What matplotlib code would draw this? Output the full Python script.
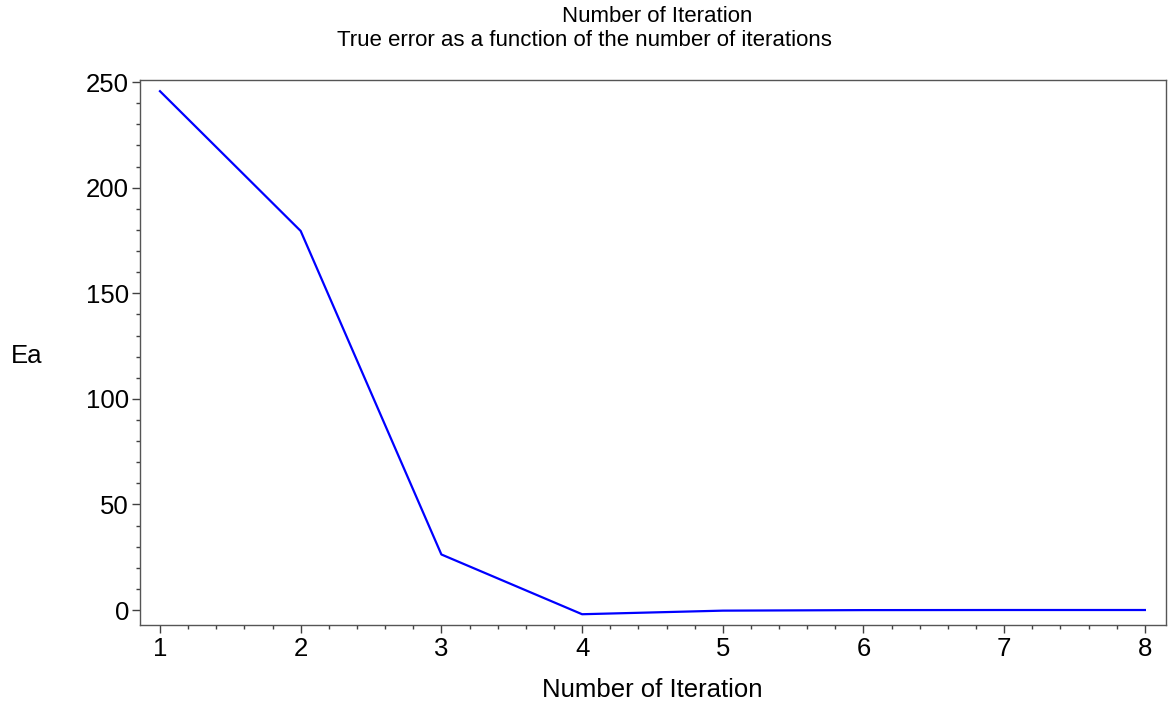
import matplotlib
matplotlib.use("Agg")
import matplotlib.pyplot as plt
from matplotlib.ticker import MultipleLocator

iterations = [1, 2, 3, 4, 5, 6, 7, 8]
true_error = [245.7, 179.5, 26.3, -2.0, -0.3, -0.05, 0.0, 0.0]

plt.rcParams['font.family'] = ['Liberation Sans', 'DejaVu Sans']

W, H = 1168, 704
fig = plt.figure(figsize=(W/100, H/100), dpi=100)
ax = fig.add_axes([140/W, 1 - 625/H, (1166-140)/W, (625-80)/H])
ax.plot(iterations, true_error, color='#0000ff', linewidth=1.6)
ax.set_xlim(0.858, 8.15)
ax.set_ylim(-7.1, 251)
ax.xaxis.set_major_locator(MultipleLocator(1))
ax.xaxis.set_minor_locator(MultipleLocator(0.2))
ax.yaxis.set_major_locator(MultipleLocator(50))
ax.yaxis.set_minor_locator(MultipleLocator(10))
ax.tick_params(which='both', direction='out', top=False, right=False, color='#404040', labelsize=18.5)
ax.tick_params(which='major', length=6, width=1)
ax.tick_params(which='minor', length=3, width=1)
ax.tick_params(axis='y', which='major', pad=2)
ax.tick_params(axis='x', which='major', pad=3)
for s in ax.spines.values():
    s.set_color('#555555')
    s.set_linewidth(1)
fig.text(652/W, 1 - 697/H, 'Number of Iteration', fontsize=18.5, ha='center', va='baseline')
fig.text(27/W, 1 - 363/H, 'Ea', fontsize=18.5, ha='center', va='baseline')
fig.text(657/W, 1 - 22/H, 'Number of Iteration', fontsize=16, ha='center', va='baseline')
fig.text(584/W, 1 - 46/H, 'True error as a function of the number of iterations', fontsize=16, ha='center', va='baseline')
fig.savefig('out.png', dpi=100)
